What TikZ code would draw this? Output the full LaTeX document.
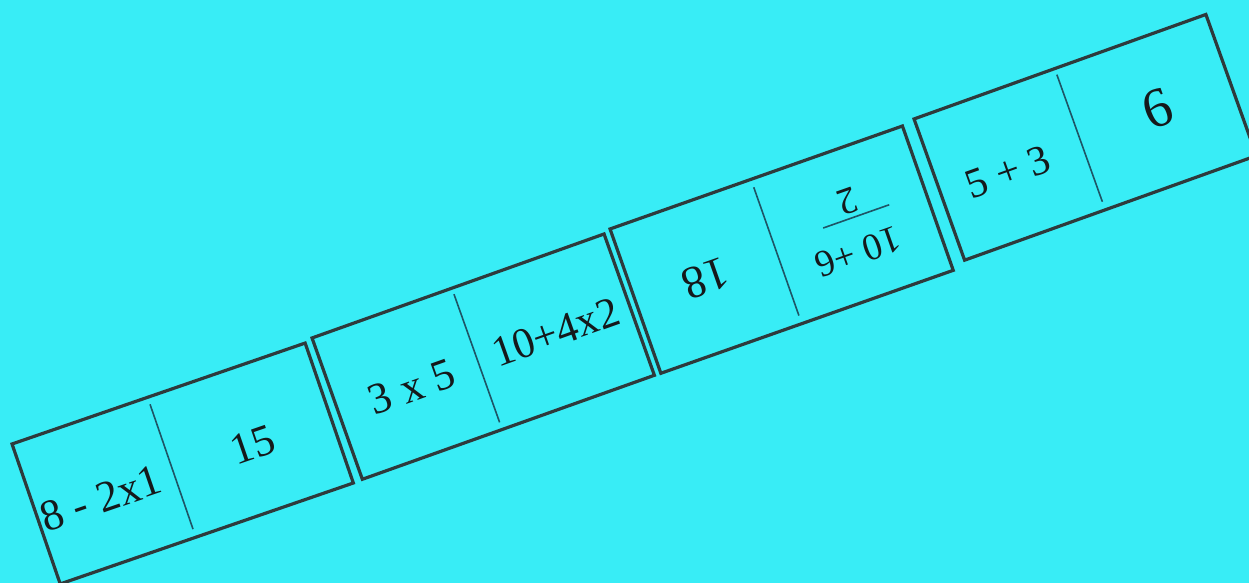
\documentclass[tikz,border=0pt]{standalone}
\usepackage{fontspec}
\setmainfont{Liberation Serif}
\definecolor{bgcol}{HTML}{38EDF6}
\definecolor{bordercol}{HTML}{2E3A3C}
\definecolor{divcol}{HTML}{1E5566}
\definecolor{textcol}{HTML}{15191B}
\begin{document}
\begin{tikzpicture}[x=0.5pt,y=-0.5pt,
  card/.style={draw=bordercol, line width=1.6pt, minimum width=155pt, minimum height=75pt, anchor=north west, inner sep=0pt, transform shape},
  divider/.style={draw=divcol, line width=0.8pt},
  lbl/.style={text=textcol, inner sep=0pt, transform shape, font=\fontsize{22}{22}\selectfont},
  small/.style={font=\fontsize{19}{19}\selectfont},
  big/.style={font=\fontsize{28}{28}\selectfont}]
\fill[bgcol] (0,0) rectangle (1249,583);
\useasboundingbox (0,0) rectangle (1249,583);
% card 1
\begin{scope}[shift={(10,443)}, rotate=19]
  \node[card, minimum height=74pt] (c1) at (0,0) {};
  \coordinate (c1t) at (145,9);
  \coordinate (c1b) at (145,141);
  \draw[divider] (c1t) -- (c1b);
  \node[lbl] (c1l) at (68,82) {8 - 2x1};
  \node[lbl] (c1r) at (229,81) {15};
\end{scope}
% card 2
\begin{scope}[shift={(310,337)}, rotate=19.6]
  \node[card] (c2) at (0,0) {};
  \coordinate (c2t) at (150,8);
  \coordinate (c2b) at (150,144);
  \draw[divider] (c2t) -- (c2b);
  \node[lbl] (c2l) at (79,81) {3 x 5};
  \node[lbl, font=\fontsize{21.5}{21.5}\selectfont] (c2r) at (233,78) {10+4x2};
\end{scope}
% card 3
\begin{scope}[shift={(608,228)}, rotate=19.4]
  \node[card, minimum height=76.5pt] (c3) at (0,0) {};
  \coordinate (c3t) at (151,10);
  \coordinate (c3b) at (151,146);
  \draw[divider] (c3t) -- (c3b);
  \node[lbl, font=\fontsize{23}{23}\selectfont, rotate=180] (c3l) at (75,80) {18};
  \node[lbl, small, rotate=180] (c3num) at (228,106) {10 +6};
  \node[lbl, small, rotate=180] (c3den) at (235,55) {2};
  \coordinate (c3ba) at (203,71.5);
  \coordinate (c3bb) at (273,71.5);
  \draw[divider] (c3ba) -- (c3bb);
\end{scope}
% card 4
\begin{scope}[shift={(912,118)}, rotate=19.7]
  \node[card] (c4) at (0,0) {};
  \coordinate (c4t) at (151,8);
  \coordinate (c4b) at (151,143);
  \draw[divider] (c4t) -- (c4b);
  \node[lbl, font=\fontsize{21}{21}\selectfont] (c4l) at (72,83) {5 + 3};
  \node[lbl, big] (c4r) at (234,74) {6};
\end{scope}
\end{tikzpicture}
\end{document}
